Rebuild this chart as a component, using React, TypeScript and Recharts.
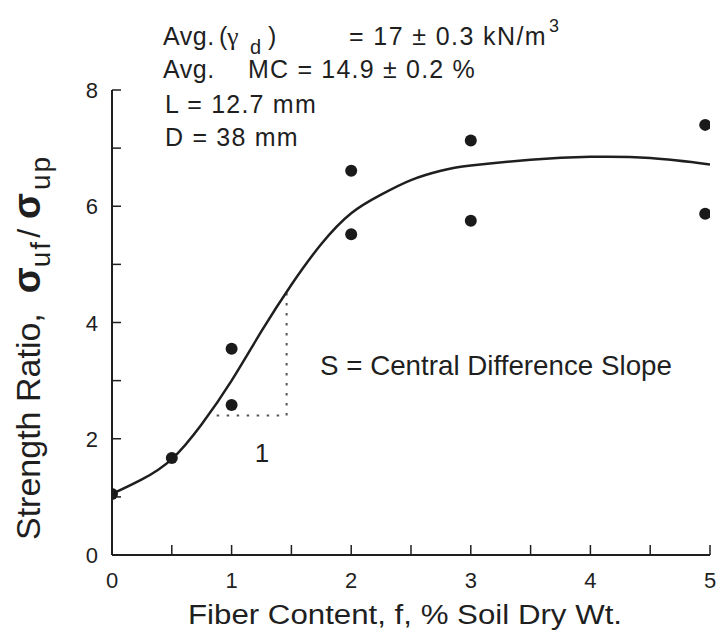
import { ComposedChart, Line, Scatter, XAxis, YAxis, ReferenceLine } from "recharts";

// measured points
const fiberPct = [0, 0.5, 1, 1, 2, 2, 3, 3, 4.96, 4.96];
const strengthRatio = [1.05, 1.67, 3.55, 2.58, 6.61, 5.52, 7.13, 5.75, 7.4, 5.87];

// fitted curve
const curveX = [0, 0.25, 0.5, 0.75, 1, 1.25, 1.5, 1.75, 2, 2.25, 2.5, 2.75, 3, 3.5, 4, 4.5, 5];
const curveY = [1.05, 1.3, 1.65, 2.25, 3.0, 3.85, 4.65, 5.35, 5.88, 6.2, 6.45, 6.61, 6.7, 6.8, 6.85, 6.83, 6.72];

// slope triangle (dotted)
const slopeX = [0.875, 1.46];
const slopeY = [2.4, 4.51];

const xTicks = [0, 0.5, 1, 1.5, 2, 2.5, 3, 3.5, 4, 4.5, 5];
const yTicks = [0, 1, 2, 3, 4, 5, 6, 7, 8];

const INK = "#1f1f1f";
const FONT = "'Liberation Sans', Arial, Helvetica, sans-serif";

const points = fiberPct.map((x, i) => ({ x, y: strengthRatio[i] }));
const curve = curveX.map((x, i) => ({ x, y: curveY[i] }));

function XTick({ x, y, payload }: any) {
  const v = payload.value;
  return (
    <g>
      <line x1={x} x2={x} y1={y} y2={y - 10} stroke={INK} strokeWidth={1.5} />
      {Number.isInteger(v) && (
        <text x={x} y={y + 33} textAnchor="middle" fontSize={22} fill={INK} fontFamily={FONT}>
          {v}
        </text>
      )}
    </g>
  );
}

function YTick({ x, y, payload }: any) {
  const v = payload.value;
  return (
    <g>
      <line x1={x} x2={x + 9} y1={y} y2={y} stroke={INK} strokeWidth={1.5} />
      {v % 2 === 0 && (
        <text x={x - 14} y={y + 8} textAnchor="end" fontSize={22} fill={INK} fontFamily={FONT}>
          {v}
        </text>
      )}
    </g>
  );
}

const Dot = (props: any) => <circle cx={props.cx} cy={props.cy} r={6} fill="#1a1a1a" />;

export default function App() {
  return (
    <div style={{ position: "absolute", left: 0, top: 0, width: 724, height: 636, background: "#fff" }}>
      <ComposedChart width={724} height={636} margin={{ top: 90, right: 14, bottom: 0, left: 0 }}>
        <XAxis
          type="number"
          dataKey="x"
          domain={[0, 5]}
          ticks={xTicks}
          height={81}
          tickSize={0}
          tickMargin={0}
          tickLine={false}
          tick={<XTick />}
          axisLine={{ stroke: INK, strokeWidth: 2 }}
          allowDataOverflow
        />
        <YAxis
          type="number"
          dataKey="y"
          domain={[0, 8]}
          ticks={yTicks}
          width={112}
          tickSize={0}
          tickMargin={0}
          tickLine={false}
          tick={<YTick />}
          axisLine={{ stroke: INK, strokeWidth: 2 }}
        />
        <ReferenceLine
          segment={[{ x: slopeX[0], y: slopeY[0] }, { x: slopeX[1], y: slopeY[0] }]}
          stroke="#555"
          strokeWidth={2}
          strokeDasharray="2.5 7.5"
        />
        <ReferenceLine
          segment={[{ x: slopeX[1], y: slopeY[0] }, { x: slopeX[1], y: slopeY[1] }]}
          stroke="#555"
          strokeWidth={2}
          strokeDasharray="2.5 7.5"
        />
        <Line
          data={curve}
          dataKey="y"
          type="natural"
          stroke={INK}
          strokeWidth={2.5}
          dot={false}
          isAnimationActive={false}
        />
        <Scatter data={points} dataKey="y" shape={Dot} isAnimationActive={false} />
      </ComposedChart>

      <svg
        width={724}
        height={636}
        style={{ position: "absolute", left: 0, top: 0, pointerEvents: "none" }}
        fontFamily={FONT}
        fill={INK}
      >
        <g fontSize={25}>
          <text y={45}>
            <tspan x={163} letterSpacing={0.5}>Avg.</tspan>
            <tspan x={219}>(</tspan>
            <tspan x={227} fontFamily="'Liberation Serif', serif" fontSize={26}>γ</tspan>
            <tspan x={250} dy={9} fontSize={20}>d</tspan>
            <tspan x={268} dy={-9}>)</tspan>
            <tspan x={349} letterSpacing={1.4}>= 17 ± 0.3 kN/m</tspan>
            <tspan dx={2} dy={-13} fontSize={18}>3</tspan>
          </text>
          <text y={78} letterSpacing={1.2}>
            <tspan x={163} letterSpacing={0.5}>Avg.</tspan>
            <tspan x={248}>MC = 14.9 ± 0.2 %</tspan>
          </text>
          <text x={165} y={113} letterSpacing={1.2}>L = 12.7 mm</text>
          <text x={165} y={146} letterSpacing={1.2}>D = 38 mm</text>
        </g>

        <text x={320} y={375} fontSize={28} textLength={352} lengthAdjust="spacingAndGlyphs">
          S = Central Difference Slope
        </text>
        <text x={262} y={462} fontSize={26} textAnchor="middle">1</text>

        <text x={405} y={624} fontSize={27} textAnchor="middle" textLength={434} lengthAdjust="spacingAndGlyphs">
          Fiber Content, f, % Soil Dry Wt.
        </text>

        <text transform="translate(40,540) rotate(-90)" fontSize={34}>
          Strength Ratio,
          <tspan fontSize={38} fontWeight="bold" dx={20}>σ</tspan>
          <tspan fontSize={28} dy={10} letterSpacing={2}>uf</tspan>
          <tspan dy={-10} dx={2} fontSize={32}>/</tspan>
          <tspan fontSize={38} fontWeight="bold" dx={10}>σ</tspan>
          <tspan fontSize={28} dy={10} dx={3} letterSpacing={2}>up</tspan>
        </text>
      </svg>
    </div>
  );
}
